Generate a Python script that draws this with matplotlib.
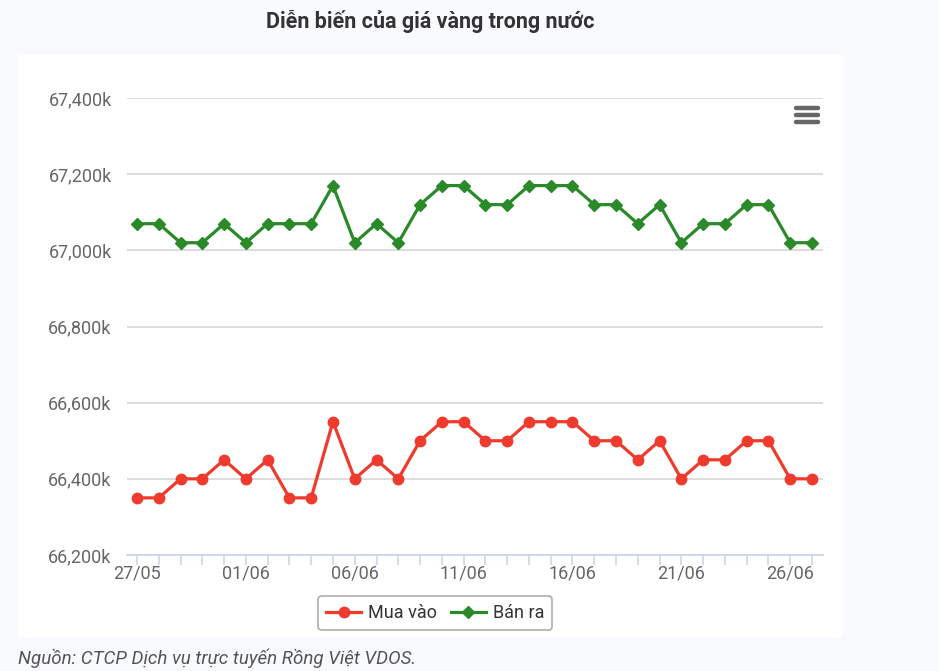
import numpy as np
import matplotlib.pyplot as plt
from matplotlib.patches import Rectangle
from matplotlib.lines import Line2D

plt.rcParams['font.family'] = ['Roboto', 'DejaVu Sans']

# data
dates = ['27/05', '28/05', '29/05', '30/05', '31/05', '01/06', '02/06', '03/06',
         '04/06', '05/06', '06/06', '07/06', '08/06', '09/06', '10/06', '11/06',
         '12/06', '13/06', '14/06', '15/06', '16/06', '17/06', '18/06', '19/06',
         '20/06', '21/06', '22/06', '23/06', '24/06', '25/06', '26/06', '27/06']
mua_vao = [66350, 66350, 66400, 66400, 66450, 66400, 66450, 66350,
           66350, 66550, 66400, 66450, 66400, 66500, 66550, 66550,
           66500, 66500, 66550, 66550, 66550, 66500, 66500, 66450,
           66500, 66400, 66450, 66450, 66500, 66500, 66400, 66400]
ban_ra = [67070, 67070, 67020, 67020, 67070, 67020, 67070, 67070,
          67070, 67170, 67020, 67070, 67020, 67120, 67170, 67170,
          67120, 67120, 67170, 67170, 67170, 67120, 67120, 67070,
          67120, 67020, 67070, 67070, 67120, 67120, 67020, 67020]
y_ticks = [66200, 66400, 66600, 66800, 67000, 67200, 67400]

W, H = 939, 671
fig = plt.figure(figsize=(W / 100, H / 100), dpi=100)
fig.patch.set_facecolor('#f8fafd')

# white chart panel
fig.patches.append(Rectangle((18 / W, 1 - 637 / H), (842 - 18) / W, (637 - 55) / H,
                             transform=fig.transFigure, facecolor='white',
                             edgecolor='none', zorder=-5))

ax = fig.add_axes([127 / W, 1 - 555 / H, (823 - 127) / W, (555 - 98) / H])
ax.set_facecolor('none')

x = np.arange(len(dates))
red = '#ef3a2e'
green = '#2a8a2a'
ax.plot(x, mua_vao, color=red, lw=2.3, marker='o', ms=7.5, label='Mua vào',
        clip_on=False, zorder=3)
ax.plot(x, ban_ra, color=green, lw=2.3, marker='D', ms=6.5, label='Bán ra',
        clip_on=False, zorder=3)

day_w = (812 - 137) / 31
ax.set_xlim(-(137 - 127) / day_w, 31 + (823 - 812) / day_w)
ax.set_ylim(66200, 67400)

ax.set_yticks(y_ticks)
ax.set_yticklabels([f'{v:,}k' for v in y_ticks])
ax.grid(axis='y', color='#d9d9d9', lw=1.3)
ax.set_axisbelow(True)

ax.set_xticks(x, minor=True)
ax.set_xticks(x[::5])
ax.set_xticklabels(dates[::5])

for s in ['top', 'right', 'left']:
    ax.spines[s].set_visible(False)
ax.spines['bottom'].set_color('#ccd6eb')
ax.spines['bottom'].set_linewidth(1.3)

ax.tick_params(axis='y', length=0, pad=11, labelsize=13, labelcolor='#666666')
ax.tick_params(axis='x', which='both', length=7, width=1.2, color='#ccd6eb',
               labelsize=13, labelcolor='#666666', pad=0)

leg = ax.legend(loc='upper center', bbox_to_anchor=(0.443, -0.07), ncol=2,
                frameon=True, fontsize=13, handlelength=1.9, columnspacing=0.8,
                handletextpad=0.4, borderpad=0.45, fancybox=True)
leg.get_frame().set_edgecolor('#999999')
leg.get_frame().set_linewidth(1.2)
for t in leg.get_texts():
    t.set_color('#333333')

fig.text(430 / W, 1 - 21 / H, 'Diễn biến của giá vàng trong nước', ha='center',
         va='center', fontsize=15.5, fontweight='bold', color='#333333')
fig.text(18 / W, 1 - 658 / H, 'Nguồn: CTCP Dịch vụ trực tuyến Rồng Việt VDOS.',
         ha='left', va='center', fontsize=13.5, style='italic', color='#555555')

# menu icon
for yy in [108, 115, 122]:
    fig.lines.append(Line2D([796 / W, 818 / W], [1 - yy / H, 1 - yy / H],
                            transform=fig.transFigure, color='#666666', lw=3.2,
                            solid_capstyle='round'))

fig.savefig('out.png', dpi=100)
